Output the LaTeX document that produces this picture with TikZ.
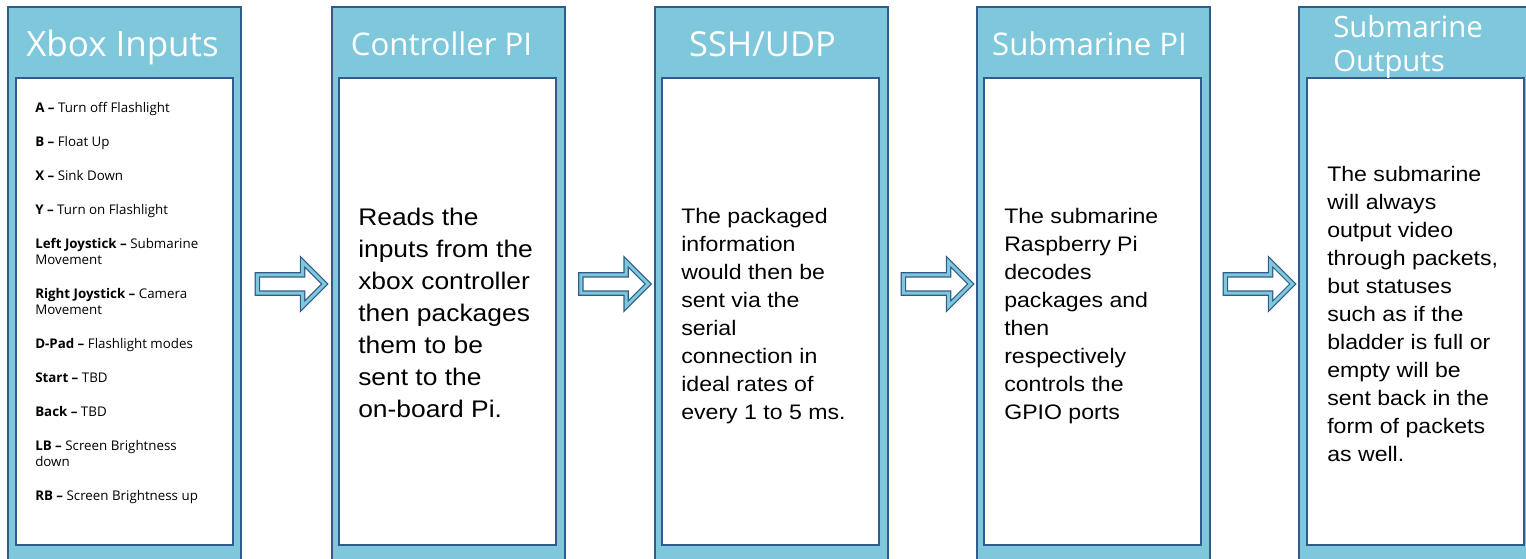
\documentclass[tikz,border=0pt]{standalone}
\usepackage{fontspec}
\setmainfont{Open Sans}
\newfontfamily\arialfont[FakeStretch=1.1]{Liberation Sans}
\usepackage{tikz}
\usetikzlibrary{shapes.arrows, calc}

\definecolor{paleblue}{RGB}{127,200,220}
\definecolor{rimblue}{RGB}{47,92,138}

\tikzset{
  panel/.style={draw=rimblue, fill=paleblue, line width=1.5pt, minimum width=174.75pt, minimum height=415.5pt, inner sep=0pt},
  sheet/.style={draw=rimblue, fill=white, line width=1.5pt, minimum width=162.75pt, minimum height=350.25pt, inner sep=0pt},
  headtext/.style={text=white, font=\fontsize{24}{29}\selectfont, anchor=base, inner sep=0pt},
  bodytext/.style={font=\arialfont\fontsize{15.75}{21}\selectfont, align=left, anchor=base west, inner sep=0pt},
  listtext/.style={font=\fontsize{10}{12}\selectfont, align=left, anchor=base west, inner sep=0pt},
  flowarrow/.style={single arrow, draw=rimblue, fill=white, double=paleblue, double distance=2.25pt, line width=0.9pt, inner sep=0pt, inner ysep=6.4pt, single arrow head extend=9.75pt, minimum height=50.6pt}
}

\begin{document}
\begin{tikzpicture}[x=0.75pt, y=-0.75pt]
\clip (0,0) rectangle (1526,559);
% outer panels
\node[panel] (xbox) at (124.5,284) {};
\node[panel] (ctrl) at (448.5,284) {};
\node[panel] (link) at (771.5,284) {};
\node[panel] (subpi) at (1093.5,284) {};
\node[panel] (subout) at (1415.5,284) {};
% white sheets
\node[sheet] (xboxsheet) at (124.5,311.5) {};
\node[sheet] (ctrlsheet) at (447.5,311.5) {};
\node[sheet] (linksheet) at (770.5,311.5) {};
\node[sheet] (subpisheet) at (1092.5,311.5) {};
\node[sheet] (suboutsheet) at (1415.5,311.5) {};
% headers
\node[headtext, font=\fontsize{26.2}{30}\selectfont] (xboxhead) at (122.5,57) {Xbox Inputs};
\node[headtext, font=\fontsize{23.4}{28}\selectfont] (ctrlhead) at (441.5,55.5) {Controller PI};
\node[headtext, font=\fontsize{25.8}{30}\selectfont] (linkhead) at (762.5,57) {SSH/UDP};
\node[headtext, font=\fontsize{23.4}{28}\selectfont] (subpihead) at (1089.5,55.5) {Submarine PI};
\node[headtext, anchor=base west, align=left, font=\fontsize{22}{25.5}\selectfont] (subouthead) at (1333,71.5) {Submarine\\Outputs};
% texts (placed at their last baselines)
\node[listtext] (xboxlist) at (35,500) {\textbf{A –} Turn off Flashlight\\[13.5pt]
\textbf{B –} Float Up\\[13.5pt]
\textbf{X –} Sink Down\\[13.5pt]
\textbf{Y –} Turn on Flashlight\\[13.5pt]
\textbf{Left Joystick –} Submarine\\Movement\\[13.5pt]
\textbf{Right Joystick –} Camera\\Movement\\[13.5pt]
\textbf{D-Pad –} Flashlight modes\\[13.5pt]
\textbf{Start –} TBD\\[13.5pt]
\textbf{Back –} TBD\\[13.5pt]
\textbf{LB –} Screen Brightness\\down\\[13.5pt]
\textbf{RB –} Screen Brightness up};
\node[bodytext, font=\arialfont\fontsize{18}{24}\selectfont] (ctrltext) at (358,417) {Reads the\\inputs from the\\xbox controller\\then packages\\them to be\\sent to the\\on-board Pi.};
\node[bodytext] (linktext) at (681,419) {The packaged\\information\\would then be\\sent via the\\serial\\connection in\\ideal rates of\\every 1 to 5 ms.};
\node[bodytext] (subpitext) at (1004,419) {The submarine\\Raspberry Pi\\decodes\\packages and\\then\\respectively\\controls the\\GPIO ports};
\node[bodytext] (subouttext) at (1327,461) {The submarine\\will always\\output video\\through packets,\\but statuses\\such as if the\\bladder is full or\\empty will be\\sent back in the\\form of packets\\as well.};
% arrows
\node[flowarrow] (arr1) at ($(xbox.east)!.5!(ctrl.west)$) {};
\node[flowarrow] (arr2) at ($(ctrl.east)!.5!(link.west)$) {};
\node[flowarrow] (arr3) at ($(link.east)!.5!(subpi.west)$) {};
\node[flowarrow] (arr4) at ($(subpi.east)!.5!(subout.west)$) {};
\end{tikzpicture}
\end{document}
